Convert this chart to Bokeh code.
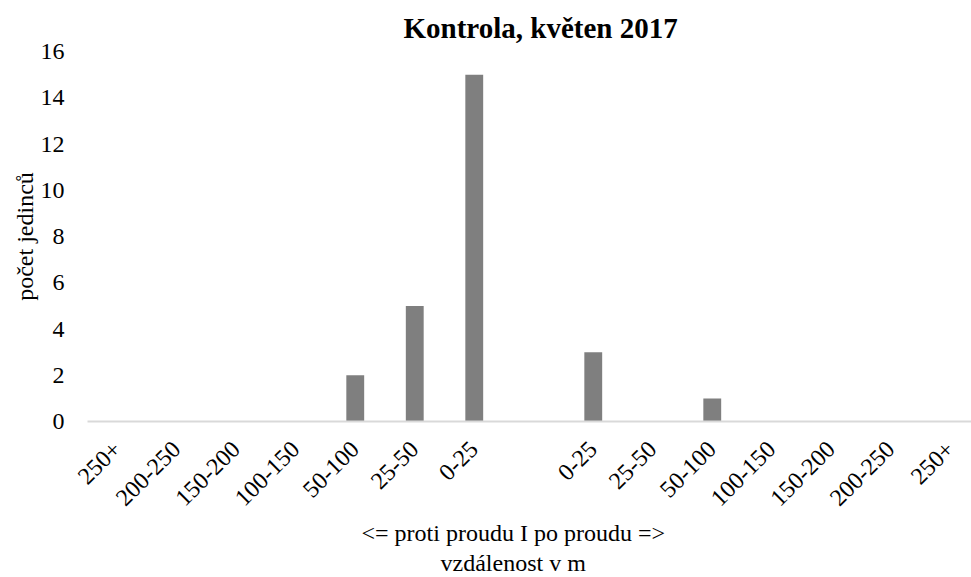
import math
from bokeh.plotting import figure
from bokeh.models import Range1d, FixedTicker, Title, ColumnDataSource
from bokeh.embed import file_html
from bokeh.resources import INLINE

# --- data ---
categories = ["250+", "200-250", "150-200", "100-150", "50-100", "25-50", "0-25",
              "",
              "0-25", "25-50", "50-100", "100-150", "150-200", "200-250", "250+"]
counts = [0, 0, 0, 0, 2, 5, 15,
          0,
          3, 0, 1, 0, 0, 0, 0]
y_ticks = [0, 2, 4, 6, 8, 10, 12, 14, 16]
title_text = "Kontrola, květen 2017"
y_title = "počet jedinců"
x_title_lines = ["<= proti proudu I po proudu =>", "vzdálenost v m"]

FONT = "Liberation Serif"

positions = list(range(len(categories)))
src = ColumnDataSource(dict(x=[p for p, c in zip(positions, counts) if c > 0],
                            top=[c for c in counts if c > 0]))

p = figure(width=971, height=577, output_backend="svg", toolbar_location=None,
           x_range=Range1d(-0.5, 14.357), y_range=Range1d(0, 16),
           min_border_left=87, min_border_right=0, min_border_top=51,
           min_border_bottom=156)
p.outline_line_color = None
p.grid.visible = False

p.vbar(x="x", top="top", width=0.3, source=src, fill_color="#7f7f7f", line_color=None)

# title
p.title.text = title_text
p.title.text_font = FONT
p.title.text_font_size = "29px"
p.title.text_font_style = "bold"
p.title.text_color = "#000000"
p.title.align = "left"
p.title.offset = 316
p.title.standoff = 15

# x axis
xa = p.xaxis[0]
xa.ticker = FixedTicker(ticks=positions)
xa.major_label_overrides = {i: c for i, c in zip(positions, categories)}
xa.major_label_orientation = math.pi / 4
xa.major_label_text_font = FONT
xa.major_label_text_font_size = "24px"
xa.major_label_text_color = "#000000"
xa.major_label_standoff = 18
xa.major_tick_line_color = None
xa.minor_tick_line_color = None
xa.axis_line_color = "#d9d9d9"
xa.axis_line_width = 2

# y axis
ya = p.yaxis[0]
ya.ticker = FixedTicker(ticks=y_ticks)
ya.major_label_text_font = FONT
ya.major_label_text_font_size = "24px"
ya.major_label_text_color = "#000000"
ya.major_label_standoff = 17
ya.major_tick_line_color = None
ya.minor_tick_line_color = None
ya.axis_line_color = None
ya.axis_label = y_title
ya.axis_label_text_font = FONT
ya.axis_label_text_font_size = "24px"
ya.axis_label_text_font_style = "normal"
ya.axis_label_text_color = "#000000"
ya.axis_label_standoff = 0

# x axis title: two lines below the tick labels
for line, off, so in zip(x_title_lines, [274, 353], [4, 0]):
    p.add_layout(Title(text=line, align="left", offset=off, standoff=so,
                       text_font=FONT, text_font_size="24px",
                       text_font_style="normal", text_color="#000000"), "below")

open("out.html", "w").write(file_html(p, INLINE))
